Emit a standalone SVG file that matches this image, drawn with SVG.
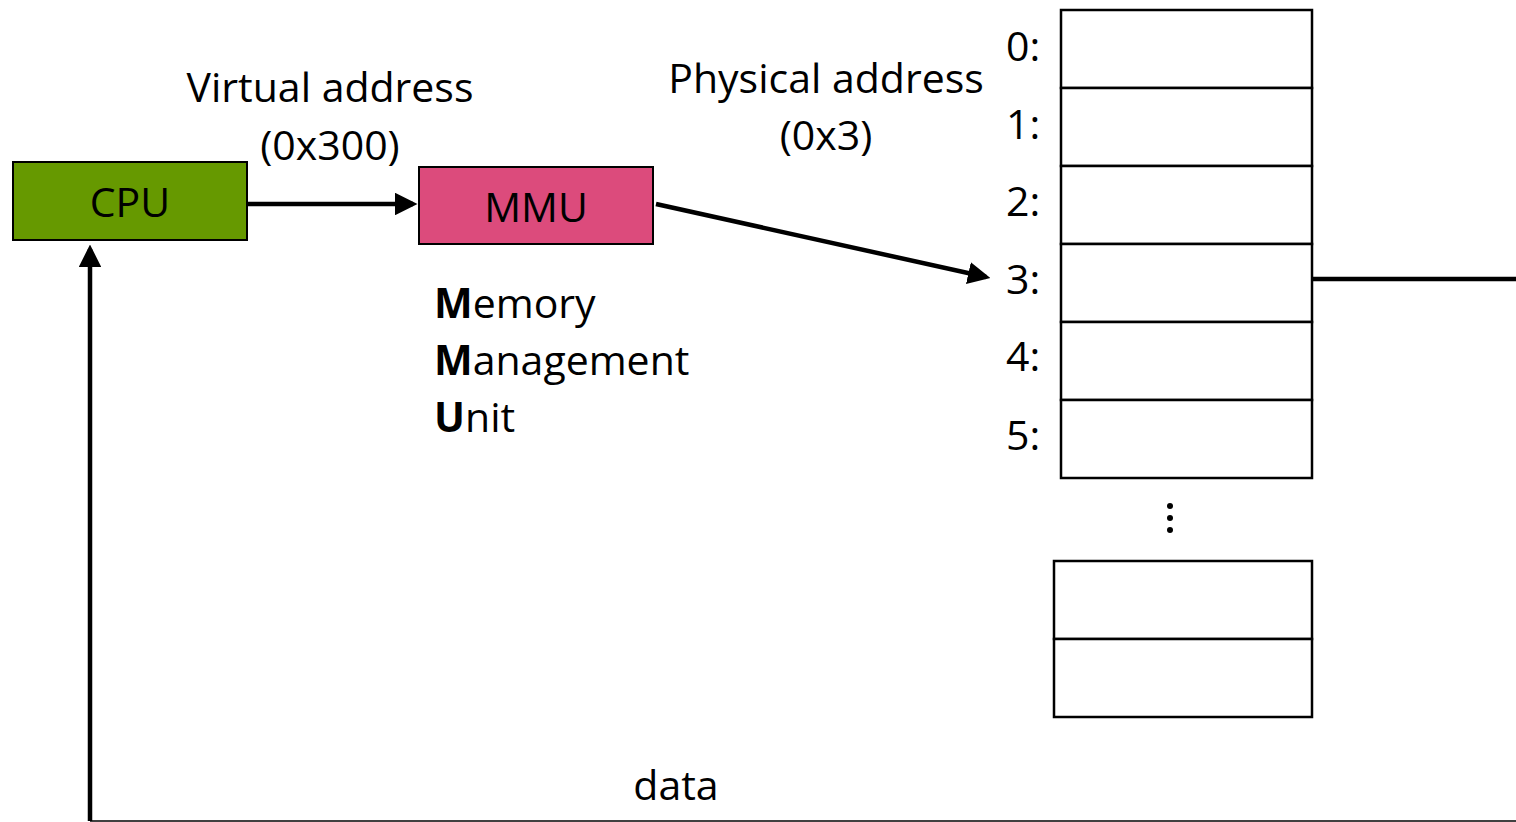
<svg xmlns="http://www.w3.org/2000/svg" width="1516" height="822" viewBox="0 0 1516 822">
<defs>
<style>
text{font-family:"Open Sans","Noto Sans","Liberation Sans",sans-serif;font-size:41px;fill:#000}
.c{text-anchor:middle}
.cell{fill:#fff;stroke:#000;stroke-width:2.5}
.conn{stroke:#000;stroke-width:4.5;fill:none}
</style>
<marker id="ah" markerWidth="5" markerHeight="5" refX="4" refY="2.5" orient="auto" markerUnits="strokeWidth">
<path d="M0,0 L5,2.5 L0,5 z" fill="#000"/>
</marker>
</defs>
<rect width="1516" height="822" fill="#fff"/>
<g id="cpu">
<rect x="13" y="162" width="234" height="78" fill="#669900" stroke="#000" stroke-width="2"/>
<text x="130" y="217" class="c">CPU</text>
</g>
<g id="mmu">
<rect x="419" y="167" width="234" height="77" fill="#DC4B7C" stroke="#000" stroke-width="2"/>
<text x="536" y="222" class="c">MMU</text>
</g>
<g id="mmu-label">
<text x="434" y="318"><tspan font-weight="bold">M</tspan>emory</text>
<text x="434" y="375"><tspan font-weight="bold">M</tspan>anagement</text>
<text x="434" y="432"><tspan font-weight="bold">U</tspan>nit</text>
</g>
<g id="labels">
<text x="330" y="102" class="c">Virtual address</text>
<text x="330" y="160" class="c">(0x300)</text>
<text x="826" y="93" class="c">Physical address</text>
<text x="826" y="150" class="c">(0x3)</text>
<text x="676" y="800" class="c">data</text>
</g>
<g id="memory">
<rect class="cell" x="1061" y="10" width="251" height="78"/>
<rect class="cell" x="1061" y="88" width="251" height="78"/>
<rect class="cell" x="1061" y="166" width="251" height="78"/>
<rect class="cell" x="1061" y="244" width="251" height="78"/>
<rect class="cell" x="1061" y="322" width="251" height="78"/>
<rect class="cell" x="1061" y="400" width="251" height="78"/>
<text x="1006" y="61">0:</text>
<text x="1006" y="139">1:</text>
<text x="1006" y="216">2:</text>
<text x="1006" y="294">3:</text>
<text x="1006" y="371">4:</text>
<text x="1006" y="450">5:</text>
<circle cx="1170" cy="506" r="3"/>
<circle cx="1170" cy="518" r="3"/>
<circle cx="1170" cy="530" r="3"/>
<rect class="cell" x="1054" y="561" width="258" height="78"/>
<rect class="cell" x="1054" y="639" width="258" height="78"/>
</g>
<g id="connectors">
<line class="conn" x1="247" y1="204" x2="413" y2="204" marker-end="url(#ah)"/>
<line class="conn" x1="656" y1="204" x2="986" y2="277" marker-end="url(#ah)"/>
<line class="conn" x1="1312" y1="279" x2="1516" y2="279"/>
<line x1="90" y1="821" x2="1516" y2="821" stroke="#000" stroke-width="1.5"/>
<line class="conn" x1="90" y1="821" x2="90" y2="249" marker-end="url(#ah)"/>
</g>
</svg>
